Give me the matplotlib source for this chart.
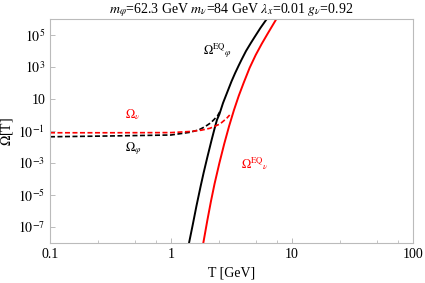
import matplotlib
matplotlib.use('Agg')
import matplotlib.pyplot as plt
import numpy as np
from matplotlib.ticker import FixedLocator, NullFormatter

plt.rcParams['font.family'] = ['Liberation Serif', 'DejaVu Serif']
plt.rcParams['mathtext.fontset'] = 'stix'

# curves, as log10(T) and log10(Omega)
eq_phi_logT = [0.149, 0.18, 0.21, 0.245, 0.27, 0.30, 0.336, 0.36, 0.38, 0.40, 0.43,
               0.474, 0.50, 0.53, 0.56, 0.584, 0.62, 0.66, 0.69, 0.74, 0.796]
eq_phi_logO = [-8.0, -6.85, -5.7, -4.45, -3.6, -2.65, -1.55, -0.85, -0.3, 0.05, 0.75,
               1.6, 2.1, 2.62, 3.1, 3.47, 4.0, 4.5, 4.86, 5.45, 6.05]

eq_nu_logT = [0.267, 0.30, 0.33, 0.36, 0.40, 0.44, 0.48, 0.52, 0.56, 0.60, 0.65,
              0.70, 0.75, 0.80, 0.874]
eq_nu_logO = [-8.0, -6.6, -5.4, -4.3, -3.0, -1.8, -0.7, 0.3, 1.2, 2.0, 2.95,
              3.75, 4.45, 5.1, 6.04]

om_phi_logT = [-1.0, -0.5, 0.0, 0.157, 0.23, 0.281, 0.33, 0.36, 0.385, 0.41]
om_phi_logO = [-1.36, -1.31, -1.25, -1.08, -0.93, -0.73, -0.48, -0.25, -0.05, 0.3]

om_nu_logT = [-1.0, -0.5, 0.0, 0.157, 0.25, 0.322, 0.405, 0.46, 0.485]
om_nu_logO = [-1.11, -1.11, -1.10, -1.03, -0.95, -0.83, -0.56, -0.21, 0.0]

ytick_pow = [5, 3, 1, -1, -3, -5, -7]

def tolin(a):
    return 10.0 ** np.array(a)

fig = plt.figure(figsize=(4.25, 2.83), dpi=100)
ax = fig.add_axes([0.1176, 0.1413, 0.8542, 0.7916])

ax.plot(tolin(eq_phi_logT), tolin(eq_phi_logO), color='black', lw=1.4)
ax.plot(tolin(eq_nu_logT), tolin(eq_nu_logO), color='red', lw=1.4)
ax.plot(tolin(om_phi_logT), tolin(om_phi_logO), color='black', lw=1.2, dashes=(3, 1.5))
ax.plot(tolin(om_nu_logT), tolin(om_nu_logO), color='red', lw=1.2, dashes=(3, 1.5))

ax.set_xscale('log')
ax.set_yscale('log')
ax.set_xlim(0.1, 100)
ax.set_ylim(1e-8, 1e6)

ax.xaxis.set_major_locator(FixedLocator([0.1, 1, 10, 100]))
ax.set_xticklabels(['0.1', '1', '10', '100'])
minors = [m * d for d in [0.1, 1, 10] for m in [2.5, 5, 7.5]]
ax.xaxis.set_minor_locator(FixedLocator(minors))
ax.xaxis.set_minor_formatter(NullFormatter())

ax.yaxis.set_major_locator(FixedLocator([10.0 ** p for p in ytick_pow]))
ax.set_yticklabels(['10' if p == 1 else r'$10^{%d}$' % p for p in ytick_pow])
ax.yaxis.set_minor_locator(FixedLocator([]))

for s in ax.spines.values():
    s.set_color('#bbbbbb')
    s.set_linewidth(0.8)
ax.tick_params(which='both', direction='in', color='#bbbbbb', labelsize=10)
ax.tick_params(which='major', length=3.5, width=0.7)
ax.tick_params(which='minor', length=2, width=0.6)

ax.set_xlabel('T [GeV]', fontsize=10, labelpad=4)
ax.set_ylabel(r'$\Omega$[T]', fontsize=10, labelpad=2)
ax.set_title(r'$m_\varphi$=62.3 GeV $m_\nu$=84 GeV $\lambda_x$=0.01 $g_\nu$=0.92',
             fontsize=10, pad=3)

ax.text(2.44, 1e4, r'$\Omega^{\mathrm{EQ}}{}_{\varphi}$', fontsize=9, ha='center', va='center')
ax.text(0.485, 1.0, r'$\Omega_\nu$', fontsize=9, color='red', ha='center', va='center')
ax.text(0.485, 0.0075, r'$\Omega_\varphi$', fontsize=9, ha='center', va='center')
ax.text(4.94, 8.7e-4, r'$\Omega^{\mathrm{EQ}}{}_{\nu}$', fontsize=9, color='red', ha='center', va='center')

fig.savefig('out.png', dpi=100)
